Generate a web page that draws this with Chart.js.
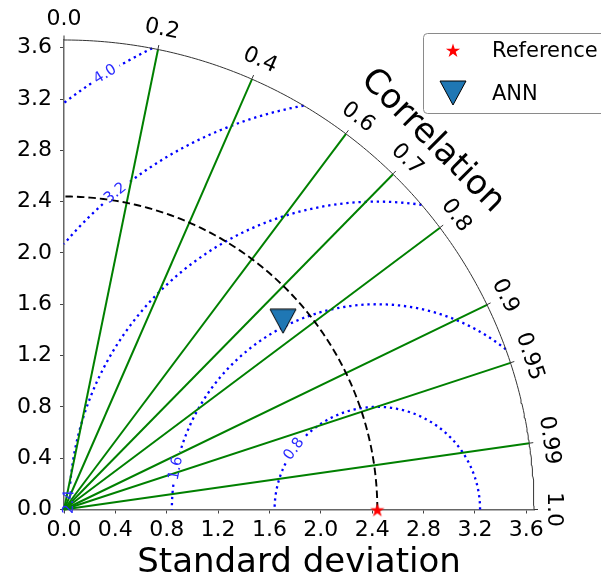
<!DOCTYPE html>
<html>
<head>
<meta charset="utf-8">
<script src="https://cdn.jsdelivr.net/npm/chart.js@4.4.1/dist/chart.umd.min.js"></script>
<style>
  html, body { margin: 0; padding: 0; background: #fff; }
  #wrap { width: 601px; height: 580px; }
</style>
</head>
<body>
<div id="wrap"><canvas id="taylor" width="601" height="580"></canvas></div>
<script>
// --- data ---
const stdTicks = [0.0, 0.4, 0.8, 1.2, 1.6, 2.0, 2.4, 2.8, 3.2, 3.6];
const corrTicks = [0.0, 0.2, 0.4, 0.6, 0.7, 0.8, 0.9, 0.95, 0.99, 1.0];
const corrLabels = ['0.0', '0.2', '0.4', '0.6', '0.7', '0.8', '0.9', '0.95', '0.99', '1.0'];
const corrLines = [0.2, 0.4, 0.6, 0.7, 0.8, 0.9, 0.95, 0.99];
const rmsLevels = [0.8, 1.6, 2.4, 3.2, 4.0];
const refStd = 2.44;
const stdMax = 3.66;
const modelNames = ['ANN'];
const modelStd = [2.25];
const modelCorr = [0.758];

// where the rms labels sit on their contours (degrees around the reference point)
const rmsLabelAngles = [144, 168.4, 178.6, 129.6, 122];

const green = '#008000';
const blue = '#0000ff';
const FONT = '"DejaVu Sans", sans-serif';

Chart.defaults.font.family = FONT;
Chart.defaults.color = '#000';

const polar = (r, th) => ({ x: r * Math.cos(th), y: r * Math.sin(th) });

function arcPoints(r, a0, a1, n, cx = 0) {
  const pts = [];
  for (let i = 0; i <= n; i++) {
    const a = a0 + (a1 - a0) * i / n;
    pts.push({ x: cx + r * Math.cos(a), y: r * Math.sin(a) });
  }
  return pts;
}

// rms circle round the reference point, clipped to the quarter disc, with a gap for its label
function rmsContour(R, labelDeg) {
  const k = (stdMax * stdMax - refStd * refStd - R * R) / (2 * refStd * R);
  const a0 = k >= 1 ? 0 : Math.acos(Math.max(-1, k));
  const a1 = R > refStd ? Math.acos(-refStd / R) : Math.PI;
  const la = labelDeg * Math.PI / 180;
  const gap = 0.13 / R;
  let pts = [];
  if (la - gap > a0) pts = pts.concat(arcPoints(R, a0, la - gap, 90, refStd));
  pts.push({ x: NaN, y: NaN });
  if (la + gap < a1) pts = pts.concat(arcPoints(R, la + gap, a1, 90, refStd));
  return pts;
}

function makeStar(size, color) {
  const c = document.createElement('canvas');
  c.width = c.height = size;
  const g = c.getContext('2d');
  const cx = size / 2, cy = size / 2 + size * 0.06, ro = size / 2 - 0.5, ri = ro * 0.382;
  g.beginPath();
  for (let k = 0; k < 10; k++) {
    const r = k % 2 ? ri : ro;
    const a = -Math.PI / 2 + k * Math.PI / 5;
    g.lineTo(cx + r * Math.cos(a), cy + r * Math.sin(a));
  }
  g.closePath();
  g.fillStyle = color;
  g.fill();
  return c;
}

function makeTriangleDown(w, h, fill) {
  const c = document.createElement('canvas');
  c.width = w; c.height = h;
  const g = c.getContext('2d');
  g.beginPath();
  g.moveTo(1, 1);
  g.lineTo(w - 1, 1);
  g.lineTo(w / 2, h - 1);
  g.closePath();
  g.fillStyle = fill;
  g.fill();
  g.strokeStyle = '#000';
  g.lineWidth = 1;
  g.stroke();
  return c;
}

const starImg = makeStar(16, '#ff0000');
const triImg = makeTriangleDown(28, 26, '#1f77b4');

const lineBase = { showLine: true, pointRadius: 0, fill: false, clip: false, tension: 0 };
const datasets = [];

rmsLevels.forEach((R, i) => datasets.push({
  ...lineBase, order: 4, data: rmsContour(R, rmsLabelAngles[i]),
  borderColor: blue, borderWidth: 2.3, borderDash: [2.3, 3.8]
}));

corrLines.forEach(c => datasets.push({
  ...lineBase, order: 3, data: [{ x: 0, y: 0 }, polar(stdMax, Math.acos(c))],
  borderColor: green, borderWidth: 2
}));

datasets.push({
  ...lineBase, order: 2, data: arcPoints(refStd, 0, Math.PI / 2, 150),
  borderColor: '#000', borderWidth: 1.9, borderDash: [7.5, 4]
});

datasets.push({
  ...lineBase, order: 2, data: arcPoints(stdMax, 0, Math.PI / 2, 200),
  borderColor: '#333', borderWidth: 1
});

datasets.push({
  label: 'Reference', order: 0, showLine: false, clip: false,
  data: [{ x: refStd, y: 0 }], pointStyle: starImg, pointRadius: 8
});

modelNames.forEach((name, i) => datasets.push({
  label: name, order: 1, showLine: false, clip: false,
  data: [polar(modelStd[i], Math.acos(modelCorr[i]))], pointStyle: triImg, pointRadius: 13
}));

const taylorDecor = {
  id: 'taylorDecor',
  afterDatasetsDraw(chart) {
    const { ctx, scales: { x: xs, y: ys } } = chart;
    const ox = xs.getPixelForValue(0);
    const oy = ys.getPixelForValue(0);
    const rPx = xs.getPixelForValue(stdMax) - ox;
    ctx.save();

    // rms contour labels
    ctx.font = '15px ' + FONT;
    ctx.fillStyle = '#2b2bff';
    ctx.textAlign = 'center';
    ctx.textBaseline = 'middle';
    rmsLevels.forEach((R, i) => {
      const a = rmsLabelAngles[i] * Math.PI / 180;
      const lx = xs.getPixelForValue(refStd + R * Math.cos(a));
      const ly = ys.getPixelForValue(R * Math.sin(a));
      ctx.save();
      ctx.translate(lx, ly);
      ctx.rotate(-(a - Math.PI / 2));
      ctx.fillText(R.toFixed(1), 0, 0);
      ctx.restore();
    });

    // correlation ticks and labels on the arc
    ctx.strokeStyle = '#333';
    ctx.lineWidth = 1;
    ctx.fillStyle = '#000';
    ctx.font = '22px ' + FONT;
    corrTicks.forEach((c, i) => {
      const th = Math.acos(c);
      const dx = Math.cos(th), dy = -Math.sin(th);
      ctx.beginPath();
      ctx.moveTo(ox + dx * rPx, oy + dy * rPx);
      ctx.lineTo(ox + dx * (rPx + 4), oy + dy * (rPx + 4));
      ctx.stroke();
      const lr = rPx + 20;
      ctx.save();
      ctx.translate(ox + dx * lr, oy + dy * lr);
      ctx.rotate(Math.PI / 2 - th);
      ctx.fillText(corrLabels[i], 0, 0);
      ctx.restore();
    });

    // curved axis title
    ctx.font = '34px ' + FONT;
    const tr = rPx + 51;
    ctx.save();
    ctx.translate(ox + tr * Math.SQRT1_2, oy - tr * Math.SQRT1_2);
    ctx.rotate(Math.PI / 4);
    ctx.fillText('Correlation', 0, 0);
    ctx.restore();

    // legend box
    ctx.beginPath();
    ctx.roundRect(423.5, 33.5, 200, 80, 4);
    ctx.fillStyle = 'rgba(255,255,255,0.8)';
    ctx.fill();
    ctx.strokeStyle = '#8a8a8a';
    ctx.stroke();
    ctx.fillStyle = '#000';
    ctx.font = '21px ' + FONT;
    ctx.textAlign = 'left';
    const entries = [['Reference', starImg, 50], [modelNames[0], triImg, 93]];
    entries.forEach(([txt, img, y]) => {
      ctx.drawImage(img, 453 - img.width / 2, y - img.height / 2);
      ctx.fillText(txt, 492, y + 2);
    });
    ctx.restore();
  }
};

new Chart(document.getElementById('taylor'), {
  type: 'scatter',
  data: { datasets },
  options: {
    responsive: false,
    animation: false,
    devicePixelRatio: 1,
    layout: { padding: { top: 40, right: 67, left: 0, bottom: 0 } },
    plugins: { legend: { display: false }, tooltip: { enabled: false } },
    scales: {
      x: {
        type: 'linear', min: 0, max: stdMax,
        afterBuildTicks: ax => { ax.ticks = stdTicks.map(v => ({ value: v })); },
        afterFit: ax => { ax.height = 70.5; },
        ticks: { callback: v => v.toFixed(1), font: { size: 22 }, color: '#000', padding: 4, maxRotation: 0, autoSkip: false },
        grid: { drawOnChartArea: false, drawTicks: true, tickLength: 4, color: '#444' },
        border: { display: true, color: '#666', width: 1.5 },
        title: { display: true, text: 'Standard deviation', font: { size: 34, lineHeight: 1 }, color: '#000', padding: 0 }
      },
      y: {
        type: 'linear', min: 0, max: stdMax,
        afterBuildTicks: ax => { ax.ticks = stdTicks.map(v => ({ value: v })); },
        afterFit: ax => { ax.width = 64; },
        ticks: { callback: v => v.toFixed(1), font: { size: 22 }, color: '#000', padding: 8, autoSkip: false },
        grid: { drawOnChartArea: false, drawTicks: true, tickLength: 4, color: '#444' },
        border: { display: true, color: '#666', width: 1.5 }
      }
    }
  },
  plugins: [taylorDecor]
});
</script>
</body>
</html>
